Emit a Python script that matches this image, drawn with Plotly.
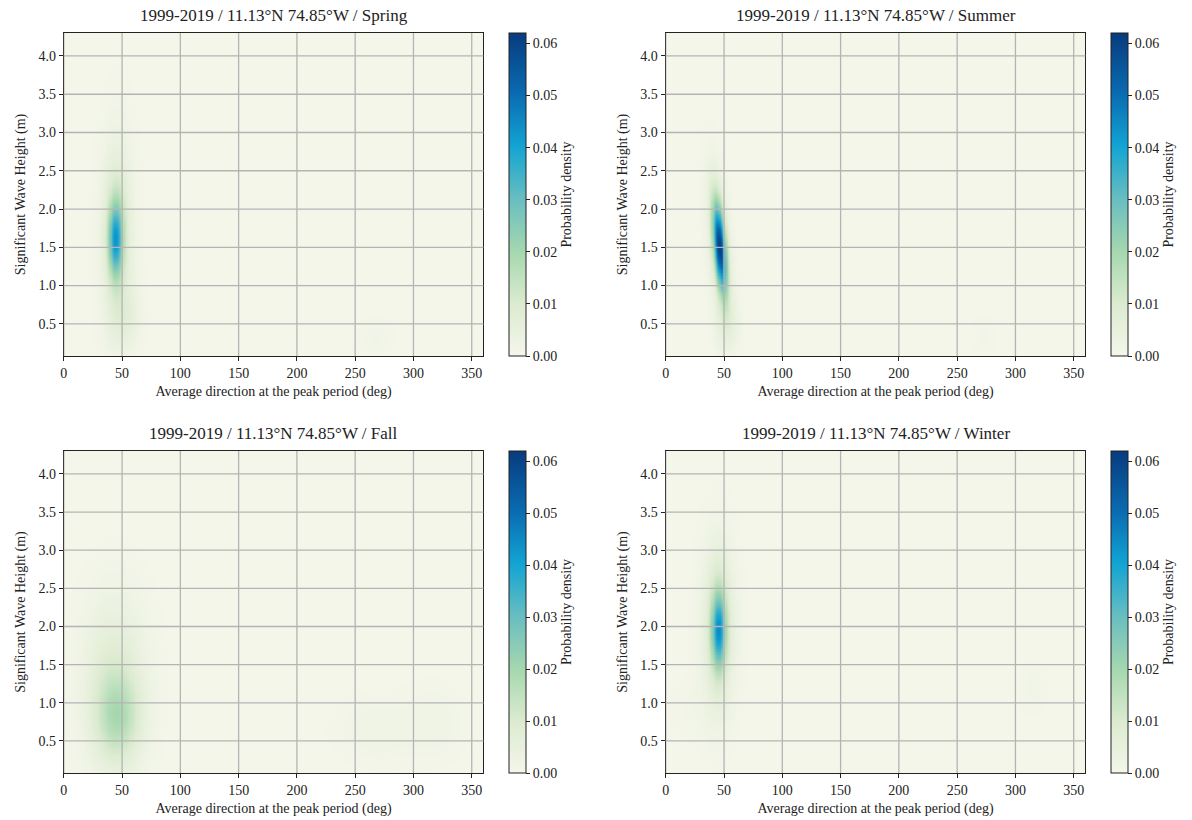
import numpy as np
import plotly.graph_objects as go

# ---------------- data ----------------
SEASONS = ["Spring", "Summer", "Fall", "Winter"]
TITLE_PREFIX = "1999-2019 / 11.13°N 74.85°W / "

X_TICKS = [0, 50, 100, 150, 200, 250, 300, 350]
Y_TICKS = [0.5, 1.0, 1.5, 2.0, 2.5, 3.0, 3.5, 4.0]
CBAR_TICKS = [0.00, 0.01, 0.02, 0.03, 0.04, 0.05, 0.06]

# density components (blobs) estimated from each panel:
# direction centre (deg), Hs centre (m), direction spread, Hs spread, tilt (deg per m), peak density
spring_dir = [44, 45, 46, 52, 268]
spring_hs = [1.6, 1.7, 1.6, 0.6, 0.3]
spring_sd = [4.0, 7, 11, 9, 10]
spring_sh = [0.32, 0.6, 1.1, 0.28, 0.2]
spring_tilt = [0, 0, 0, 0, 0]
spring_peak = [0.028, 0.012, 0.004, 0.005, 0.0015]

summer_dir = [46, 46, 52, 272]
summer_hs = [1.5, 1.5, 0.5, 0.35]
summer_sd = [3.5, 6.5, 7, 8]
summer_sh = [0.4, 0.7, 0.25, 0.2]
summer_tilt = [-5, -5, 0, 0]
summer_peak = [0.052, 0.009, 0.004, 0.0012]

fall_dir = [46, 43, 45, 270, 320]
fall_hs = [0.8, 1.2, 1.4, 0.65, 0.75]
fall_sd = [13, 16, 22, 25, 18]
fall_sh = [0.38, 0.7, 0.9, 0.3, 0.35]
fall_tilt = [0, 0, 0, 0, 0]
fall_peak = [0.012, 0.007, 0.0025, 0.0022, 0.0018]

winter_dir = [45, 45, 45, 315, 20]
winter_hs = [1.95, 2.0, 2.0, 1.2, 0.9]
winter_sd = [4.0, 7, 12, 8, 15]
winter_sh = [0.32, 0.6, 0.9, 0.25, 0.3]
winter_tilt = [0, 0, 0, 0, 0]
winter_peak = [0.029, 0.012, 0.004, 0.0015, 0.001]

COMPONENTS = {
    "Spring": (spring_dir, spring_hs, spring_sd, spring_sh, spring_tilt, spring_peak),
    "Summer": (summer_dir, summer_hs, summer_sd, summer_sh, summer_tilt, summer_peak),
    "Fall": (fall_dir, fall_hs, fall_sd, fall_sh, fall_tilt, fall_peak),
    "Winter": (winter_dir, winter_hs, winter_sd, winter_sh, winter_tilt, winter_peak),
}

X_RANGE = [0, 360]
Y_RANGE = [0.08, 4.3]
Z_MAX = 0.062

# ---------------- grid evaluation ----------------
xg = np.linspace(X_RANGE[0], X_RANGE[1], 361)
yg = np.linspace(Y_RANGE[0], Y_RANGE[1], 212)
XX, YY = np.meshgrid(xg, yg)


def density(params):
    d0, h0, sd, sh, tilt, pk = params
    z = np.zeros_like(XX)
    for a, b, c, e, t, p in zip(d0, h0, sd, sh, tilt, pk):
        dc = a + t * (YY - b)
        z += p * np.exp(-0.5 * (((XX - dc) / c) ** 2 + ((YY - b) / e) ** 2))
    return z


colorscale = [
    [0.00, "#f4f6ea"],
    [0.16, "#dcebd0"],
    [0.32, "#a6d8af"],
    [0.48, "#6bbfc0"],
    [0.65, "#12a4d3"],
    [0.81, "#0a6cb2"],
    [1.00, "#083b7e"],
]

W, H = 1192, 820
FONT = "Liberation Serif"
TXT = "#222"
GRID = "#b4b4b4"

# pixel layout of the panels
panels = {
    "Spring": dict(x0=60, x1=481, y0=33, y1=356, cb=507),
    "Summer": dict(x0=664, x1=1085, y0=33, y1=356, cb=1111),
    "Fall": dict(x0=60, x1=481, y0=451, y1=773, cb=507),
    "Winter": dict(x0=664, x1=1085, y0=451, y1=773, cb=1111),
}

fig = go.Figure()
layout = dict(
    width=W, height=H, margin=dict(l=0, r=0, t=0, b=0),
    paper_bgcolor="white", plot_bgcolor="white",
    font=dict(family=FONT, size=14, color=TXT),
    showlegend=False,
)
annotations = []
shapes = []

for i, s in enumerate(SEASONS):
    p = panels[s]
    n = "" if i == 0 else str(i + 1)
    xa, ya = "x" + n, "y" + n
    z = density(COMPONENTS[s])
    cy = 1 - (p["y0"] + p["y1"]) / 2 / H
    fig.add_trace(go.Heatmap(
        x=xg, y=yg, z=z, xaxis=xa, yaxis=ya,
        colorscale=colorscale, zmin=0, zmax=Z_MAX, zsmooth="best",
        colorbar=dict(
            x=p["cb"] / W, xanchor="left", y=cy, yanchor="middle",
            len=p["y1"] - p["y0"], lenmode="pixels",
            thickness=17, thicknessmode="pixels", xpad=0, ypad=0,
            outlinecolor=TXT, outlinewidth=1,
            tickvals=CBAR_TICKS, tickformat=".2f",
            ticks="outside", ticklen=4, tickcolor=TXT,
            tickfont=dict(family=FONT, size=14, color=TXT),
            title=dict(text="Probability density", side="right",
                       font=dict(family=FONT, size=14, color=TXT)),
        ),
    ))
    axis_common = dict(
        showline=True, mirror=True, linecolor=TXT, linewidth=1.2,
        ticks="outside", ticklen=4, tickcolor=TXT,
        showgrid=False, zeroline=False, layer="above traces",
        tickfont=dict(family=FONT, size=14, color=TXT),
    )
    layout["xaxis" + n] = dict(
        axis_common, domain=[p["x0"] / W, p["x1"] / W], range=X_RANGE,
        anchor=ya, tickvals=X_TICKS,
        title=dict(text="Average direction at the peak period (deg)",
                   standoff=6, font=dict(family=FONT, size=14, color=TXT)),
    )
    layout["yaxis" + n] = dict(
        axis_common, domain=[1 - p["y1"] / H, 1 - p["y0"] / H], range=Y_RANGE,
        anchor=xa, tickvals=Y_TICKS, tickformat=".1f",
        title=dict(text="Significant Wave Height (m)",
                   standoff=9, font=dict(family=FONT, size=14, color=TXT)),
    )
    # grid lines drawn over the density, at the tick values
    for xv in X_TICKS:
        shapes.append(dict(type="line", xref=xa, yref=ya + " domain",
                           x0=xv, x1=xv, y0=0, y1=1, layer="above",
                           line=dict(color=GRID, width=1.3)))
    for yv in Y_TICKS:
        shapes.append(dict(type="line", xref=xa + " domain", yref=ya,
                           x0=0, x1=1, y0=yv, y1=yv, layer="above",
                           line=dict(color=GRID, width=1.3)))
    annotations.append(dict(
        text=TITLE_PREFIX + s, xref="paper", yref="paper",
        x=(p["x0"] + p["x1"]) / 2 / W, y=1 - (p["y0"] - 6) / H,
        xanchor="center", yanchor="bottom", showarrow=False,
        font=dict(family=FONT, size=17, color=TXT),
    ))

layout["annotations"] = annotations
layout["shapes"] = shapes
fig.update_layout(**layout)
fig.write_html("out.html")
